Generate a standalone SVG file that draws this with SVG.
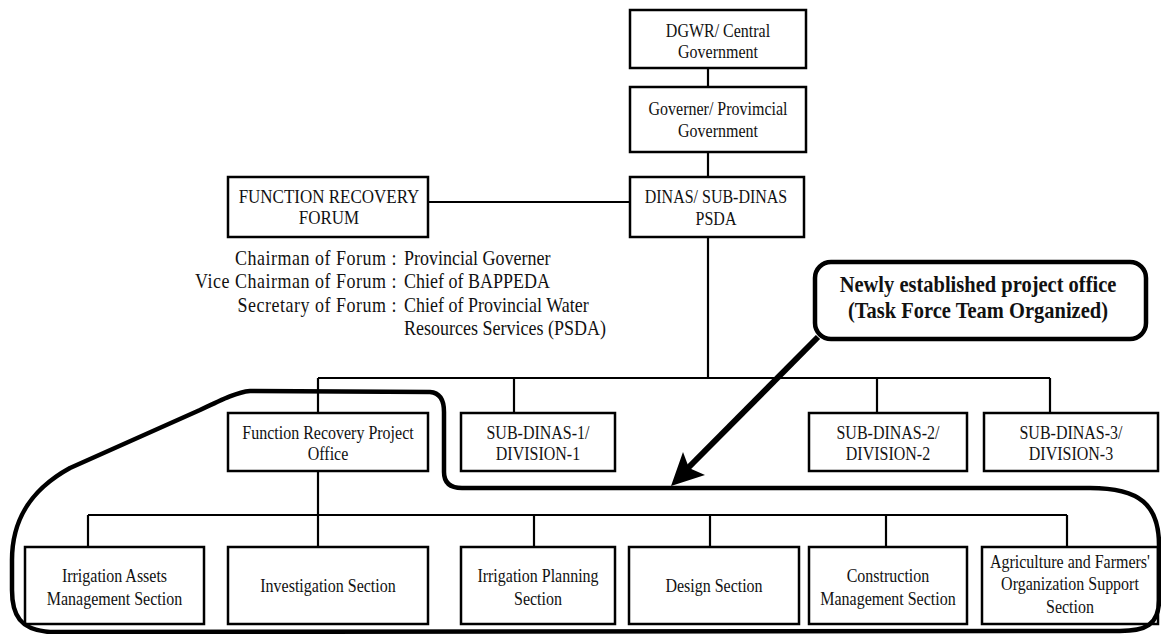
<svg xmlns="http://www.w3.org/2000/svg" width="1161" height="634" viewBox="0 0 1161 634">
<style>
.box{fill:#fff;stroke:#000;stroke-width:2.5}
text{transform-box:fill-box;transform-origin:50% 78%;transform:scaleY(1.12)}
.t{font-family:"Liberation Serif","Times New Roman",serif;font-size:16px;fill:#111;text-anchor:middle}
.l{font-family:"Liberation Serif","Times New Roman",serif;font-size:18px;fill:#111}
.lab{letter-spacing:0.5px}
.c{fill:none;stroke:#000;stroke-width:2.2}
.b{font-family:"Liberation Serif","Times New Roman",serif;font-size:20.5px;font-weight:bold;fill:#111;text-anchor:middle}
</style>
<rect width="1161" height="634" fill="#fff"/>
<g id="connectors" class="c">
<line x1="708" y1="68" x2="708" y2="87"/>
<line x1="708" y1="152" x2="708" y2="177"/>
<line x1="428" y1="202" x2="630" y2="202"/>
<line x1="708" y1="237" x2="708" y2="378"/>
<line x1="318" y1="378" x2="1050" y2="378"/>
<line x1="318" y1="378" x2="318" y2="413"/>
<line x1="514" y1="378" x2="514" y2="413"/>
<line x1="877" y1="378" x2="877" y2="413"/>
<line x1="1050" y1="378" x2="1050" y2="413"/>
<line x1="318" y1="471" x2="318" y2="547"/>
<line x1="88" y1="515" x2="1067" y2="515"/>
<line x1="88" y1="515" x2="88" y2="547"/>
<line x1="534" y1="515" x2="534" y2="547"/>
<line x1="710" y1="515" x2="710" y2="547"/>
<line x1="886" y1="515" x2="886" y2="547"/>
<line x1="1067" y1="515" x2="1067" y2="547"/>
</g>
<g id="dgwr"><rect class="box" x="630" y="10" width="176" height="58"/><text class="t" x="718" y="37">DGWR/ Central</text><text class="t" x="718" y="58">Government</text></g>
<g id="governer"><rect class="box" x="630" y="87" width="176" height="65"/><text class="t" x="718" y="115">Governer/ Provimcial</text><text class="t" x="718" y="137">Government</text></g>
<g id="dinas"><rect class="box" x="630" y="177" width="174" height="60"/><text class="t" x="716" y="203">DINAS/ SUB-DINAS</text><text class="t" x="716" y="225">PSDA</text></g>
<g id="forum"><rect class="box" x="228" y="177" width="200" height="60"/><text class="t" x="329" y="203" style="font-size:17px">FUNCTION RECOVERY</text><text class="t" x="329" y="224" style="font-size:17px">FORUM</text></g>
<g id="forum-members">
<text class="l lab" x="397" y="265" text-anchor="end">Chairman of Forum :</text>
<text class="l lab" x="397" y="288" text-anchor="end">Vice Chairman of Forum :</text>
<text class="l lab" x="397" y="312" text-anchor="end">Secretary of Forum :</text>
<text class="l" x="404" y="265">Provincial Governer</text>
<text class="l" x="404" y="288">Chief of BAPPEDA</text>
<text class="l" x="404" y="312">Chief of Provincial Water</text>
<text class="l" x="404" y="335">Resources Services (PSDA)</text>
</g>
<g id="frpo"><rect class="box" x="228" y="413" width="200" height="58"/><text class="t" x="328" y="439">Function Recovery Project</text><text class="t" x="328" y="460">Office</text></g>
<g id="sd1"><rect class="box" x="461" y="413" width="154" height="58"/><text class="t" x="538" y="439">SUB-DINAS-1/</text><text class="t" x="538" y="460">DIVISION-1</text></g>
<g id="sd2"><rect class="box" x="809" y="413" width="158" height="58"/><text class="t" x="888" y="439">SUB-DINAS-2/</text><text class="t" x="888" y="460">DIVISION-2</text></g>
<g id="sd3"><rect class="box" x="984" y="413" width="174" height="58"/><text class="t" x="1071" y="439">SUB-DINAS-3/</text><text class="t" x="1071" y="460">DIVISION-3</text></g>
<g id="s1"><rect class="box" x="25" y="547" width="179" height="77"/><text class="t" x="114.5" y="582">Irrigation Assets</text><text class="t" x="114.5" y="605">Management Section</text></g>
<g id="s2"><rect class="box" x="228" y="547" width="200" height="77"/><text class="t" x="328" y="592">Investigation Section</text></g>
<g id="s3"><rect class="box" x="461" y="547" width="154" height="77"/><text class="t" x="538" y="582">Irrigation Planning</text><text class="t" x="538" y="605">Section</text></g>
<g id="s4"><rect class="box" x="629" y="547" width="170" height="77"/><text class="t" x="714" y="592">Design Section</text></g>
<g id="s5"><rect class="box" x="809" y="547" width="158" height="77"/><text class="t" x="888" y="582">Construction</text><text class="t" x="888" y="605">Management Section</text></g>
<g id="s6"><rect class="box" x="982" y="547" width="176" height="77"/><text class="t" x="1070" y="568">Agriculture and Farmers'</text><text class="t" x="1070" y="590">Organization Support</text><text class="t" x="1070" y="613">Section</text></g>
<g id="outline"><path d="M 250 391 L 430 392 Q 444 393 444 412 L 444 472 Q 444 488 462 488 L 1090 488 C 1140 488 1159 505 1159 545 L 1159 600 C 1159 625 1145 631 1120 631 L 50 632 C 20 630 12 615 12 590 L 12 560 C 12 520 30 490 70 468 L 200 410 C 225 398 238 392 250 391 Z" fill="none" stroke="#000" stroke-width="4.5" stroke-linejoin="round"/></g>
<g id="callout">
<rect x="815" y="262" width="331" height="77" rx="16" fill="#fff" stroke="#000" stroke-width="4.5"/>
<text class="b" x="978" y="292">Newly established project office</text>
<text class="b" x="978" y="318">(Task Force Team Organized)</text>
<line x1="818" y1="337" x2="686" y2="470" stroke="#000" stroke-width="6"/>
<path d="M 671 486 L 683 452 L 689 468 L 705 475 Z" fill="#000"/>
</g>
</svg>
